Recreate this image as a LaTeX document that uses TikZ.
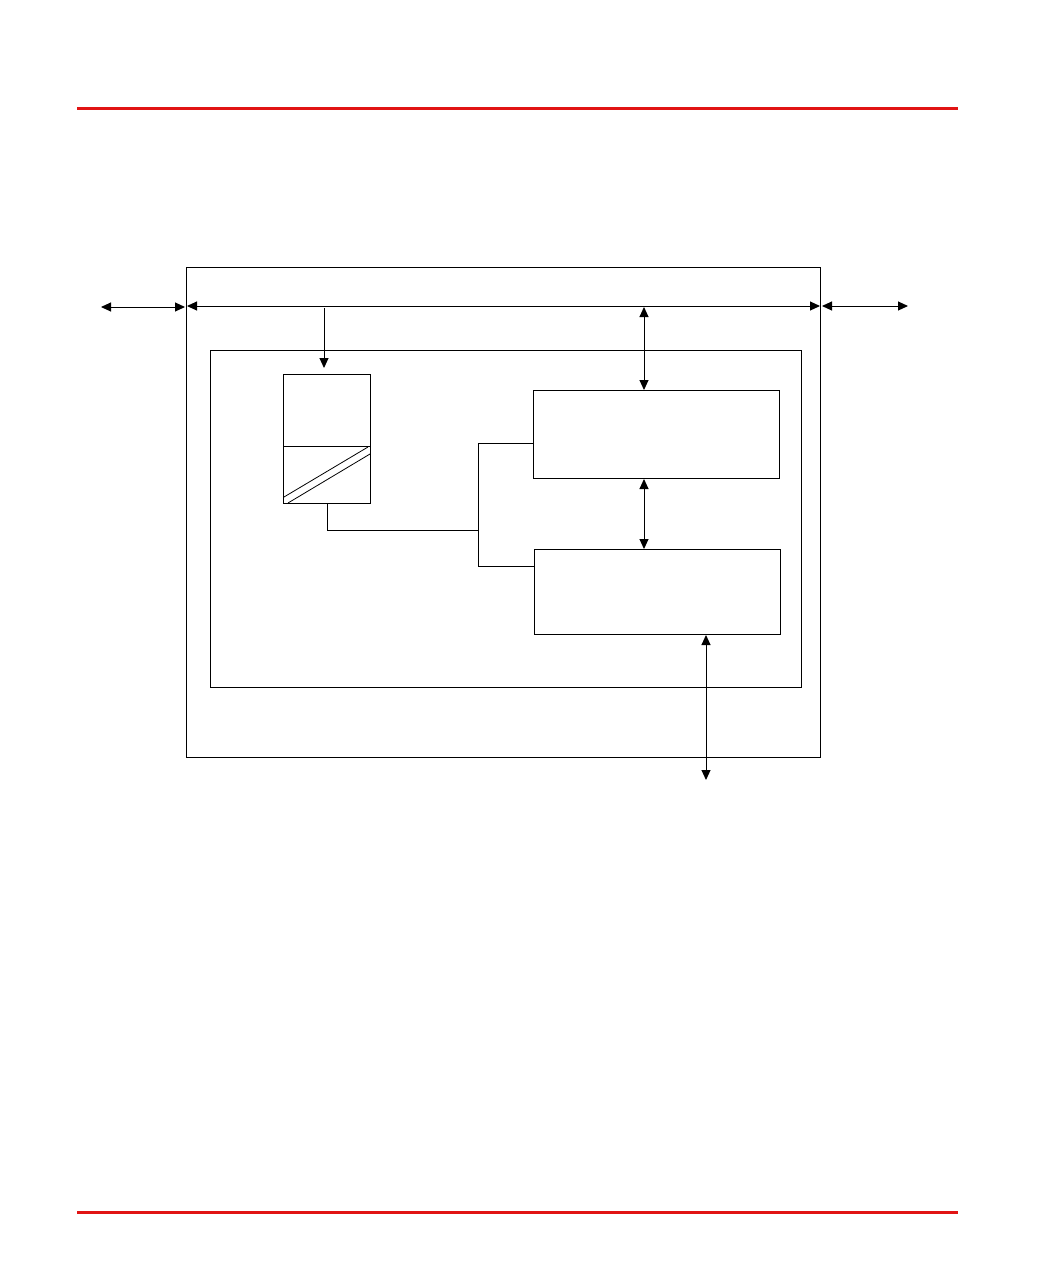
\documentclass[tikz,border=0pt]{standalone}
\usetikzlibrary{arrows.meta}
\definecolor{redrule}{RGB}{225,20,20}
\begin{document}
\begin{tikzpicture}[x=1pt,y=-1pt,
  box/.style={draw,line width=1pt,inner sep=0pt,anchor=north west},
  conn/.style={line width=1pt},
  dbl/.style={line width=1pt,{Triangle[length=10pt,width=9pt]}-{Triangle[length=10pt,width=9pt]}},
  sgl/.style={line width=1pt,-{Triangle[length=10pt,width=9pt]}},
  rule/.style={draw=redrule,line width=3pt}]
\useasboundingbox (0,0) rectangle (1060,1286);
\draw[rule] (77,108.5) -- (958,108.5);
\draw[rule] (77,1212) -- (958,1212);
% outer and inner boxes
\node[box,minimum width=634pt,minimum height=490pt] (outer) at (186,267) {};
\node[box,minimum width=591pt,minimum height=337pt] (inner) at (210,350) {};
% storage
\node[box,minimum width=87pt,minimum height=129pt] (store) at (283,374) {};
\coordinate (divL) at (283,446);
\coordinate (divR) at (370,446);
\draw[conn] (divL) -- (divR);
\draw[line width=0.8pt] (284,497) -- (368,447);
\draw[line width=0.8pt] (288,503) -- (370,454);
% boxes A and B
\node[box,minimum width=246pt,minimum height=88pt] (A) at (533,390) {};
\node[box,minimum width=246pt,minimum height=85pt] (B) at (534,549) {};
% bus
\coordinate (busL) at (187,306);
\coordinate (busR) at (820,306);
\draw[dbl] (busL) -- (busR);
\coordinate (extL) at (101,307);
\coordinate (extLe) at (185,307);
\draw[dbl] (extL) -- (extLe);
\coordinate (extR) at (822,306);
\coordinate (extRe) at (908,306);
\draw[dbl] (extR) -- (extRe);
% down arrow to storage
\coordinate (tap) at (324,308);
\draw[sgl,shorten >=6pt] (tap) -- (store.north west -| tap);
% bus to A
\coordinate (busA) at (644,307);
\draw[dbl] (busA) -- (A.north -| busA);
% A to B
\draw[dbl] (A.south -| busA) -- (B.north -| busA);
% B to outside
\coordinate (extB) at (706,780);
\draw[dbl] (B.south -| extB) -- (extB);
% connectors
\coordinate (sb) at (327,503);
\coordinate (jn) at (478,530);
\draw[conn] (store.south west -| sb) |- (jn);
\coordinate (jt) at (478,443);
\coordinate (jb) at (478,566);
\draw[conn] (A.west |- jt) -- (jt) -- (jb) -- (B.west |- jb);
\end{tikzpicture}
\end{document}
